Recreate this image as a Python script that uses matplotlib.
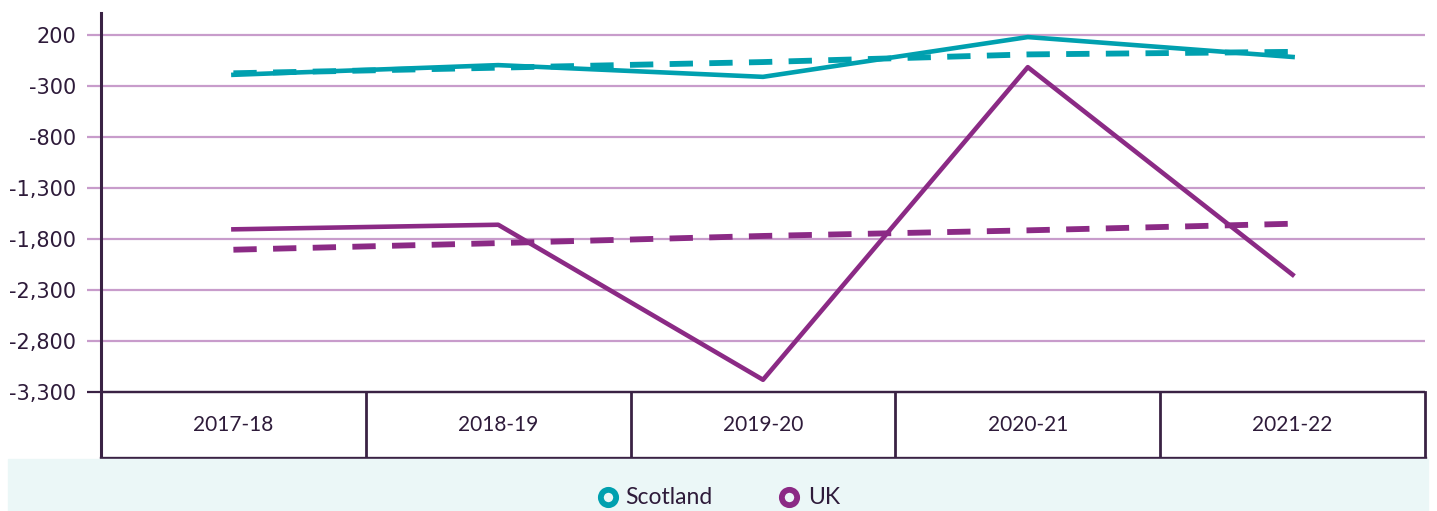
import matplotlib.pyplot as plt
from matplotlib.lines import Line2D
from matplotlib.patches import Rectangle

years = ['2017-18', '2018-19', '2019-20', '2020-21', '2021-22']
scotland = [-190, -95, -210, 180, -15]
scotland_trend = [-175, -120, -65, 10, 35]
uk = [-1705, -1660, -3180, -115, -2150]
uk_trend = [-1905, -1840, -1770, -1715, -1650]
y_ticks = [200, -300, -800, -1300, -1800, -2300, -2800, -3300]

teal = '#00A0AF'
purple = '#8B2A85'
grid_col = '#C89CCB'
dark = '#3A2244'
text_col = '#2E1B3A'
band_col = '#EBF7F7'

W, H = 1437, 511
fig = plt.figure(figsize=(W / 100, H / 100), dpi=100)

# legend band along the bottom
fig.patches.append(Rectangle((8 / W, 0), (1428 - 8) / W, (511 - 459) / H,
                             transform=fig.transFigure, color=band_col, zorder=0))

ax = fig.add_axes([101 / W, 1 - 458 / H, (1425 - 101) / W, (458 - 13) / H])
x = list(range(len(years)))

ax.plot(x, scotland_trend, color=teal, lw=4.2, dashes=(4.0, 2.8), zorder=3)
ax.plot(x, uk_trend, color=purple, lw=4.2, dashes=(4.0, 2.8), zorder=3)
ax.plot(x, scotland, color=teal, lw=3.3, zorder=4)
ax.plot(x, uk, color=purple, lw=3.3, zorder=4)

ax.set_xlim(-0.5, len(years) - 0.5)
ax.set_ylim(-3947, 416)
ax.set_yticks(y_ticks)
ax.set_yticklabels([f'{v:,}' for v in y_ticks], fontsize=15, color=text_col,
                   family='DejaVu Sans')
ax.set_xticks([])
ax.tick_params(axis='y', length=10, width=1.6, color=grid_col, pad=8)
ax.grid(axis='y', color=grid_col, lw=1.6, zorder=1)
gl = ax.yaxis.get_gridlines()
gl[-1].set_color(dark)
ax.yaxis.get_ticklines()[-2].set_markeredgecolor(dark)

for s in ['top', 'right', 'bottom']:
    ax.spines[s].set_visible(False)
ax.spines['left'].set_color(dark)
ax.spines['left'].set_linewidth(2.2)

# category table under the plot
ylo = -3947
ax.axhline(-3300, color=dark, lw=1.6, zorder=2)
ax.plot([-0.5, len(years) - 0.5], [ylo, ylo], color=dark, lw=2.4, clip_on=False, zorder=5)
for i in range(len(years)):
    ax.plot([i + 0.5, i + 0.5], [ylo, -3300], color=dark, lw=2, clip_on=False, zorder=5)
    ax.text(i, (ylo - 3300) / 2, years[i], ha='center', va='center',
            fontsize=15, family='Lato', color=text_col)

# legend
for mx, tx, col, lab in [(608, 625, teal, 'Scotland'), (789, 808, purple, 'UK')]:
    fig.add_artist(Line2D([mx / W], [1 - 497 / H], marker='o', markersize=11,
                          markeredgewidth=4.2, markeredgecolor=col,
                          markerfacecolor=band_col, ls='none', transform=fig.transFigure))
    fig.text(tx / W, 1 - 498 / H, lab, ha='left', va='center', fontsize=16.5,
             family='Lato', color=text_col)

fig.savefig('out.png', dpi=100, facecolor='white')
